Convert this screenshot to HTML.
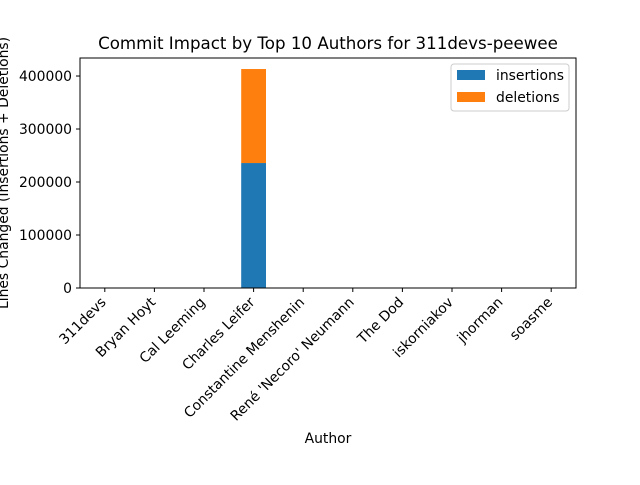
<!DOCTYPE html>
<html><head><meta charset="utf-8"><style>
body{margin:0;background:#fff}
svg text{font-family:"DejaVu Sans","Liberation Sans",sans-serif;fill:#000}
</style></head><body>
<svg id="chart" width="640" height="480" viewBox="0 0 640 480">
<text x="328" y="49" font-size="16.67" text-anchor="middle">Commit Impact by Top 10 Authors for 311devs-peewee</text>
<g id="plot"></g>
<text x="328" y="443" font-size="13.9" text-anchor="middle">Author</text>
<text transform="translate(8,173) rotate(-90)" font-size="13.9" text-anchor="middle">Lines Changed (Insertions + Deletions)</text>
<g>
<rect x="451" y="64" width="118" height="47" fill="#fff" stroke="#ccc" rx="3"/>
<rect x="457" y="70" width="28" height="10" fill="#1f77b4"/>
<text x="496" y="80" font-size="13.9">insertions</text>
<rect x="457" y="92" width="28" height="10" fill="#ff7f0e"/>
<text x="496" y="102" font-size="13.9">deletions</text>
</g>
</svg>
<script>
const categories=["311devs","Bryan Hoyt","Cal Leeming","Charles Leifer","Constantine Menshenin","René 'Necoro' Neumann","The Dod","iskorniakov","jhorman","soasme"];
const insertions=[40,30,20,235800,15,60,10,25,30,20];
const deletions=[10,10,5,177400,5,20,5,10,10,5];
const yTicks=[0,100000,200000,300000,400000];
const L=80,R=576,T=58,B=288,ymax=434000;
const ns="http://www.w3.org/2000/svg";
const g=document.getElementById('plot');
function x(i){return L+(i+0.5)*(R-L)/categories.length;}
function y(v){return B-v*(B-T)/ymax;}
function el(t,a){const e=document.createElementNS(ns,t);for(const k in a)e.setAttribute(k,a[k]);g.appendChild(e);return e;}
const bw=0.5*(R-L)/categories.length;
categories.forEach((c,i)=>{
 const b1=el('rect',{x:x(i)-bw/2,y:y(insertions[i]),width:bw,height:B-y(insertions[i]),fill:'#1f77b4'});
 
 
 const b2=el('rect',{x:x(i)-bw/2,y:y(insertions[i]+deletions[i]),width:bw,height:y(insertions[i])-y(insertions[i]+deletions[i]),fill:'#ff7f0e'});
 
 
 el('line',{x1:x(i),x2:x(i),y1:B,y2:B+4,stroke:'#000'});
 const t=el('text',{'font-size':'13.9','text-anchor':'end',transform:`translate(${x(i)+2},${B+15}) rotate(-45)`});
 t.textContent=c;
 
 
});
yTicks.forEach(v=>{
 el('line',{x1:L-4,x2:L,y1:y(v),y2:y(v),stroke:'#000'});
 const t=el('text',{x:L-8,y:y(v)+5,'font-size':'13.9','text-anchor':'end'});
 t.textContent=v;
 
 
});
const f=el('rect',{x:L,y:T,width:R-L,height:B-T,fill:'none',stroke:'#000','stroke-width':1});


</script>
</body></html>
